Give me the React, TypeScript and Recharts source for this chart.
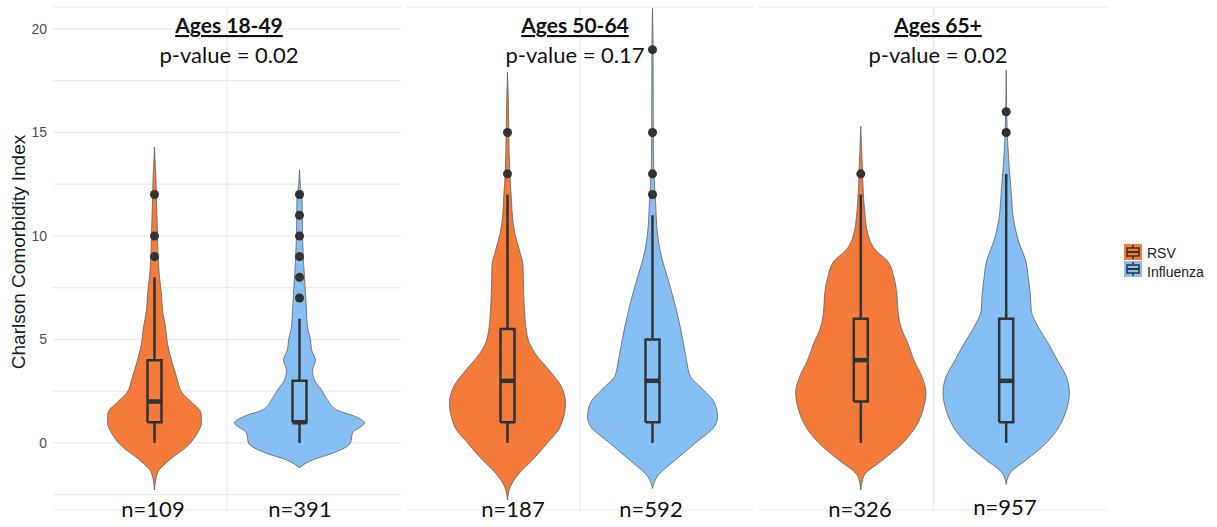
import React from "react";
import {
    ComposedChart,
    Area,
    Scatter,
    XAxis,
    YAxis,
    CartesianGrid,
    ReferenceLine,
} from "recharts";

// facets and groups
const panelTitles = ["Ages 18-49", "Ages 50-64", "Ages 65+"];
const pValues = ["0.02", "0.17", "0.02"];
const groups = ["RSV", "Influenza"];
const groupColors = ["#F47B3A", "#85BFF4"];
const counts = [109, 391, 187, 592, 326, 957];

// violin outlines: [charlson index, half width (px)]
const rsv1849 = [
    [-2.27, 0], [-1.45, 3], [-0.82, 15], [-0.19, 32], [0.48, 43], [0.97, 47],
    [1.45, 46.5], [1.93, 38], [2.4, 28], [3.2, 22], [4.0, 17], [4.8, 13],
    [5.6, 11], [6.4, 8], [7.2, 7], [8.0, 5], [8.8, 3.8], [10.1, 3], [11.7, 2],
    [12.85, 1.4], [13.3, 0.9], [14.3, 0],
];
const flu1849 = [
    [-1.2, 0], [-0.82, 13], [-0.5, 33], [0, 51], [0.48, 53], [0.97, 65],
    [1.27, 56], [1.6, 37], [2.08, 28], [2.56, 22], [3.04, 15], [3.5, 13],
    [4.0, 16], [4.5, 12], [4.97, 11], [5.6, 8], [6.4, 7], [7.2, 6], [8.0, 5],
    [8.8, 4], [10.1, 3], [11.7, 2.6], [12.4, 1], [13.2, 0],
];
const rsv5064 = [
    [-2.75, 0], [-2.1, 3], [-1.45, 12], [-0.82, 25], [0, 40], [0.8, 53],
    [1.93, 58], [2.7, 54], [3.5, 42], [4.3, 28], [5.1, 20], [6.4, 17],
    [7.5, 16], [8.6, 15.5], [9.2, 12.5], [10.1, 7.5], [10.9, 5], [11.7, 4],
    [13.0, 2.3], [15.0, 1.3], [16.6, 0.8], [17.9, 0],
];
const flu5064 = [
    [-2.2, 0], [-1.6, 5], [-0.82, 23], [0, 43], [0.8, 62], [1.27, 65],
    [1.93, 62], [2.7, 48], [3.2, 38], [4.0, 34], [4.8, 31], [6.4, 24],
    [8.0, 15], [8.8, 10], [10.1, 5], [11.7, 3], [13.3, 1.2], [15.0, 0.8],
    [19.0, 0.6], [21.0, 0],
];
const rsv65 = [
    [-2.27, 0], [-1.6, 3], [-0.82, 22], [0, 42], [0.8, 55], [1.6, 62],
    [2.4, 65], [3.2, 61], [4.0, 53], [4.8, 47], [5.6, 40], [6.4, 37],
    [7.2, 36], [8.0, 33], [8.8, 26.5], [9.3, 15], [10.1, 7], [11.1, 4],
    [12.1, 2.5], [13.3, 1.5], [15.3, 0],
];
const flu65 = [
    [-2.0, 0], [-1.45, 4], [-0.82, 20], [0, 40], [0.8, 53], [1.6, 60],
    [2.4, 63], [3.2, 60], [4.0, 51], [4.8, 42], [5.6, 32], [6.4, 25],
    [7.2, 24], [8.0, 22], [8.7, 20], [9.8, 12], [10.9, 7], [12.1, 5],
    [13.3, 3], [14.1, 2], [15.0, 1], [18.0, 0],
];
const violins = [rsv1849, flu1849, rsv5064, flu5064, rsv65, flu65];

// box plot stats
const whiskerLow = [0, 0, 0, 0, 0, 0];
const q1 = [1, 1, 1, 1, 2, 1];
const medians = [2, 1, 3, 3, 4, 3];
const q3 = [4, 3, 5.5, 5, 6, 6];
const whiskerHigh = [8, 6, 12, 11, 12, 13];
const outliers = [
    [9, 10, 12],
    [7, 8, 9, 10, 11, 12],
    [13, 15],
    [12, 13, 15, 19],
    [13],
    [15, 16],
];

const yTicks = [-2.5, 0, 2.5, 5, 7.5, 10, 12.5, 15, 17.5, 20];

const Y_DOMAIN: [number, number] = [-3.24, 21.06];
const X_DOMAIN: [number, number] = [0.4, 1.6];
const DODGE = [0.75, 1.25];
const PX_PER_UNIT = 290;
const BOX_HALF = 7 / PX_PER_UNIT;
const INK = "#333333";

const panelBoxes = [
    { left: 0, width: 401, axis: 53 },
    { left: 406, width: 348, axis: 0 },
    { left: 759, width: 349, axis: 0 },
];
const titleX = [229, 575, 938];
const nLabelX = [153, 300, 513, 651, 860, 1005];

const noDot = () => <g />;

function Panel({ index }: { index: number }) {
    const box = panelBoxes[index];
    const items = [index * 2, index * 2 + 1];
    return (
        <div style={{ position: "absolute", left: box.left, top: 0 }}>
            <ComposedChart
                width={box.width}
                height={527}
                layout="vertical"
                margin={{ top: 7, right: 0, bottom: 17, left: 0 }}
            >
                <CartesianGrid vertical={false} stroke="#ebebeb" strokeWidth={1.2} />
                <XAxis type="number" dataKey="x" domain={X_DOMAIN} allowDataOverflow hide />
                <YAxis
                    type="number"
                    dataKey="y"
                    domain={Y_DOMAIN}
                    allowDataOverflow
                    reversed
                    ticks={yTicks}
                    interval={0}
                    width={box.axis}
                    axisLine={false}
                    tickLine={false}
                    tickMargin={0}
                    tick={box.axis ? { fill: "#4d4d4d", fontSize: 14, fontFamily: "Liberation Sans, Arial, sans-serif" } : false}
                    tickFormatter={(v: number) => (v % 5 === 0 ? String(v) : "")}
                />
                <ReferenceLine x={1} stroke="#ebebeb" strokeWidth={1.2} />
                {items.map((k, j) => {
                    const c = DODGE[j];
                    const data = violins[k].map(([y, w]) => ({
                        y,
                        range: [c - w / PX_PER_UNIT, c + w / PX_PER_UNIT],
                    }));
                    return (
                        <Area
                            key={"v" + k}
                            data={data}
                            dataKey="range"
                            type="monotone"
                            fill={groupColors[j]}
                            fillOpacity={1}
                            stroke="#5f5f5f"
                            strokeWidth={0.8}
                            dot={false}
                            activeDot={false}
                            isAnimationActive={false}
                        />
                    );
                })}
                {items.map((k, j) => {
                    const c = DODGE[j];
                    return [
                        <Scatter
                            key={"wl" + k}
                            data={[{ x: c, y: whiskerLow[k] }, { x: c, y: q1[k] }]}
                            line={{ stroke: INK, strokeWidth: 2.5 }}
                            shape={noDot}
                            isAnimationActive={false}
                        />,
                        <Scatter
                            key={"wh" + k}
                            data={[{ x: c, y: q3[k] }, { x: c, y: whiskerHigh[k] }]}
                            line={{ stroke: INK, strokeWidth: 2.5 }}
                            shape={noDot}
                            isAnimationActive={false}
                        />,
                        <Scatter
                            key={"b" + k}
                            data={[
                                { x: c - BOX_HALF, y: q1[k] },
                                { x: c + BOX_HALF, y: q1[k] },
                                { x: c + BOX_HALF, y: q3[k] },
                                { x: c - BOX_HALF, y: q3[k] },
                                { x: c - BOX_HALF, y: q1[k] },
                            ]}
                            line={{ stroke: INK, strokeWidth: 2.5, strokeLinejoin: "miter" }}
                            shape={noDot}
                            isAnimationActive={false}
                        />,
                        <Scatter
                            key={"m" + k}
                            data={[
                                { x: c - BOX_HALF, y: medians[k] },
                                { x: c + BOX_HALF, y: medians[k] },
                            ]}
                            line={{ stroke: INK, strokeWidth: 4.5 }}
                            shape={noDot}
                            isAnimationActive={false}
                        />,
                        <Scatter
                            key={"o" + k}
                            data={outliers[k].map((y) => ({ x: c, y }))}
                            fill={INK}
                            isAnimationActive={false}
                        />,
                    ];
                })}
            </ComposedChart>
        </div>
    );
}

function LegendKey({ y, color }: { y: number; color: string }) {
    return (
        <g>
            <rect x={1124} y={y} width={18} height={16} fill={color} />
            <line x1={1133} x2={1133} y1={y + 1} y2={y + 15} stroke={INK} strokeWidth={1.5} />
            <rect x={1127} y={y + 4} width={12} height={8} fill={color} stroke={INK} strokeWidth={1.5} />
            <line x1={1127} x2={1139} y1={y + 8} y2={y + 8} stroke={INK} strokeWidth={2} />
        </g>
    );
}

export default function App() {
    const serif = "Lato, 'Open Sans', sans-serif";
    return (
        <div style={{ position: "absolute", left: 0, top: 0, width: 1217, height: 527, background: "#fff" }}>
            {[0, 1, 2].map((i) => (
                <Panel key={i} index={i} />
            ))}
            <svg
                width={1217}
                height={527}
                style={{ position: "absolute", left: 0, top: 0, pointerEvents: "none" }}
            >
                <text
                    x={25}
                    y={252}
                    transform="rotate(-90 25 252)"
                    textAnchor="middle"
                    fontSize={19}
                    fontFamily="Liberation Sans, Arial, sans-serif"
                    fill="#1a1a1a"
                >
                    Charlson Comorbidity Index
                </text>
                {panelTitles.map((t, i) => (
                    <g key={t}>
                        <text
                            x={titleX[i]}
                            y={33}
                            textAnchor="middle"
                            fontSize={21}
                            fontWeight={700}
                            fontFamily={serif}
                            textDecoration="underline"
                            fill="#111"
                        >
                            {t}
                        </text>
                        <text x={titleX[i]} y={63} textAnchor="middle" fontSize={22} fontFamily={serif} fill="#111">
                            {`p-value = ${pValues[i]}`}
                        </text>
                    </g>
                ))}
                {counts.map((n, k) => (
                    <text
                        key={k}
                        x={nLabelX[k]}
                        y={k === 5 ? 515 : 517}
                        textAnchor="middle"
                        fontSize={22}
                        fontFamily={serif}
                        fill="#111"
                    >
                        {`n=${n}`}
                    </text>
                ))}
                {groups.map((g, j) => (
                    <g key={g}>
                        <LegendKey y={244 + j * 17} color={groupColors[j]} />
                        <text
                            x={1147}
                            y={258 + j * 19}
                            fontSize={14}
                            fontFamily="Liberation Sans, Arial, sans-serif"
                            fill="#1a1a1a"
                        >
                            {g}
                        </text>
                    </g>
                ))}
            </svg>
        </div>
    );
}
